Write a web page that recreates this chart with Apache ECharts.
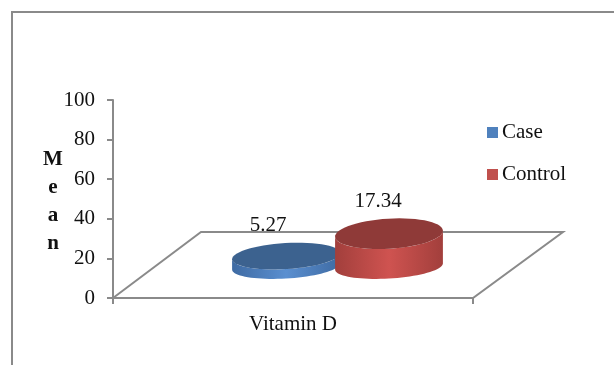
<!DOCTYPE html>
<html>
<head>
<meta charset="utf-8">
<style>
  html, body { margin: 0; padding: 0; background: #fff; }
  #chart { width: 614px; height: 365px; }
</style>
</head>
<body>
<div id="chart"></div>
<script src="https://cdn.jsdelivr.net/npm/echarts@6/dist/echarts.min.js"></script>
<script>
  var categories = ['Vitamin D'];
  var caseValues = [5.27];
  var controlValues = [17.34];
  var yMin = 0;
  var yMax = 100;
  var yStep = 20;
  var yTitle = 'M\ne\na\nn';

  var font = '"Liberation Serif", serif';
  var gray = '#8a8a8a';

  // fake 3d floor, same look as the office chart
  var floorDx = 88;
  var floorDy = 66;

  function ellipsePoint(cx, cy, a, b, rot, t) {
    return [
      cx + a * Math.cos(t) * Math.cos(rot) - b * Math.sin(t) * Math.sin(rot),
      cy + a * Math.cos(t) * Math.sin(rot) + b * Math.sin(t) * Math.cos(rot)
    ];
  }

  function renderFloor(params, api) {
    var cs = params.coordSys;
    var y0 = api.coord([0, 0])[1];
    return {
      type: 'polygon',
      silent: true,
      shape: {
        points: [
          [cs.x, y0],
          [cs.x + floorDx, y0 - floorDy],
          [cs.x + cs.width + floorDx + 2, y0 - floorDy],
          [cs.x + cs.width, y0]
        ]
      },
      style: { fill: '#fff', stroke: gray, lineWidth: 2 }
    };
  }

  function makeDisc(api, shiftX, colors, labelDx, labelDy, topB, topLift) {
    var a = 54, baseB = 12, rot = -0.06;
    var top = api.coord([api.value(0), api.value(1)]);
    var base = api.coord([api.value(0), 0]);
    var cx = top[0] + shiftX;
    var h = base[1] - top[1];
    var cyTop = base[1] - topLift - h;
    var cyBase = base[1] - 31.5;

    // silhouette of the side wall
    var t0Base = Math.atan2(-baseB * Math.sin(rot), a * Math.cos(rot));
    var t0Top = Math.atan2(-topB * Math.sin(rot), a * Math.cos(rot));
    var pts = [];
    for (var i = 0; i <= 40; i++) {
      pts.push(ellipsePoint(cx, cyBase, a, baseB, rot, t0Base + Math.PI * i / 40));
    }
    for (var j = 40; j >= 0; j--) {
      pts.push(ellipsePoint(cx, cyTop, a, topB, rot, t0Top + Math.PI * j / 40));
    }
    var topPts = [];
    for (var k = 0; k < 60; k++) {
      topPts.push(ellipsePoint(cx, cyTop, a, topB, rot, Math.PI * 2 * k / 60));
    }

    return {
      type: 'group',
      children: [
        {
          type: 'polygon',
          shape: { points: pts },
          style: {
            fill: {
              type: 'linear', x: 0, y: 0, x2: 1, y2: 0,
              colorStops: [
                { offset: 0, color: colors[0] },
                { offset: 0.5, color: colors[1] },
                { offset: 1, color: colors[0] }
              ]
            }
          }
        },
        {
          type: 'polygon',
          shape: { points: topPts },
          style: { fill: colors[2] }
        },
        {
          type: 'text',
          style: {
            text: String(api.value(1)),
            x: cx + labelDx,
            y: cyTop + labelDy,
            align: 'center',
            verticalAlign: 'middle',
            font: '21px ' + font,
            fill: '#111'
          }
        }
      ]
    };
  }

  var chart = echarts.init(document.getElementById('chart'));
  var option = {
    animation: false,
    backgroundColor: '#fff',
    textStyle: { fontFamily: font },
    grid: { left: 113, top: 100, width: 360, height: 198 },
    legend: {
      left: 482,
      top: 117,
      orient: 'vertical',
      itemWidth: 11,
      itemHeight: 11,
      itemGap: 21,
      icon: 'rect',
      data: ['Case', 'Control'],
      textStyle: { fontFamily: font, fontSize: 21, color: '#111', padding: [0, 0, 0, -1] }
    },
    xAxis: {
      type: 'category',
      data: categories,
      axisLine: { lineStyle: { color: gray, width: 2 } },
      axisTick: { show: true, alignWithLabel: false, length: 6, lineStyle: { color: gray, width: 2 } },
      axisLabel: { fontFamily: font, fontSize: 21, color: '#111', margin: 16 }
    },
    yAxis: {
      type: 'value',
      min: yMin,
      max: yMax,
      interval: yStep,
      splitLine: { show: false },
      axisLine: { show: true, lineStyle: { color: gray, width: 2 } },
      axisTick: { show: true, length: 6, lineStyle: { color: gray, width: 2 } },
      axisLabel: { fontFamily: font, fontSize: 21, color: '#111', margin: 18, padding: [6, 0, 0, 0] }
    },
    graphic: [
      { type: 'polyline', silent: true, shape: { points: [[12, 365], [12, 12], [614, 12]] }, style: { fill: null, stroke: gray, lineWidth: 2 } },
      {
        type: 'text',
        silent: true,
        x: 53,
        y: 202,
        style: {
          text: yTitle,
          align: 'center',
          verticalAlign: 'middle',
          font: 'bold 21px ' + font,
          lineHeight: 28,
          fill: '#111'
        }
      }
    ],
    series: [
      {
        type: 'custom',
        silent: true,
        z: 1,
        data: [[0, 0]],
        renderItem: renderFloor
      },
      {
        name: 'Case',
        type: 'custom',
        z: 2,
        clip: false,
        itemStyle: { color: '#4f81bd' },
        data: caseValues.map(function (v, i) { return [i, v]; }),
        renderItem: function (params, api) {
          return makeDisc(api, -7, ['#3f6ba3', '#5a8fd0', '#3c628f'], -18, -30.5, 13, 31.5);
        }
      },
      {
        name: 'Control',
        type: 'custom',
        z: 3,
        clip: false,
        itemStyle: { color: '#c0504d' },
        data: controlValues.map(function (v, i) { return [i, v]; }),
        renderItem: function (params, api) {
          return makeDisc(api, 96, ['#a23f3c', '#cf5350', '#8f3a38'], -11, -32, 15, 30);
        }
      }
    ]
  };
  chart.setOption(option);
</script>
</body>
</html>
